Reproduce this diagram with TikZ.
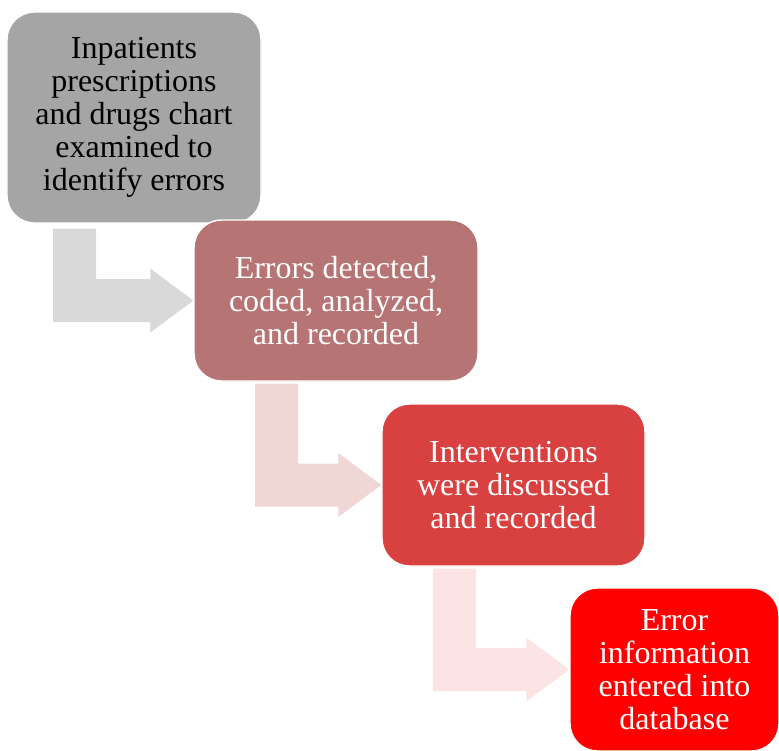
\documentclass[tikz,border=0pt]{standalone}
\usepackage{fontspec}
\setmainfont{Liberation Serif}
\usepackage{tikz}
\usetikzlibrary{calc}

\definecolor{stepgray}{HTML}{A5A5A5}
\definecolor{steprose}{HTML}{B77474}
\definecolor{stepred}{HTML}{D94040}
\definecolor{stepbright}{HTML}{FF0000}
\definecolor{arrowgray}{HTML}{D9D9D9}
\definecolor{arrowrose}{HTML}{F1D6D6}
\definecolor{arrowpink}{HTML}{FDE4E4}

% bent arrow: colour, from node, to node, left x of the stem, gap
\newcommand{\bentarrow}[5]{%
  \fill[#1] let \p1=(#2.south), \p2=(#3.west) in
    (#4,\y1-#5) -- (#4+0.86cm,\y1-#5) -- (#4+0.86cm,\y2+0.43cm)
    -- (\x2-0.86cm,\y2+0.43cm) -- (\x2-0.86cm,\y2+0.64cm) -- (\x2,\y2)
    -- (\x2-0.86cm,\y2-0.64cm) -- (\x2-0.86cm,\y2-0.43cm)
    -- (#4,\y2-0.43cm) -- cycle;}

\begin{document}
\begin{tikzpicture}[
  stepbox/.style={rounded corners=0.55cm, draw=white, line width=0.8pt,
    align=center, inner sep=2pt,
    font=\fontsize{18.2}{18.8}\selectfont}
]
\useasboundingbox (0,0) rectangle (15.58,-15);

\node[stepbox, fill=stepgray, minimum width=5.08cm, minimum height=4.22cm]
  (examine) at (2.68,-2.35)
  {Inpatients\\prescriptions\\and drugs chart\\examined to\\identify errors};
\node[stepbox, fill=steprose, text=white, minimum width=5.68cm, minimum height=3.22cm]
  (detect) at (6.72,-6.01)
  {Errors detected,\\coded, analyzed,\\and recorded};
\node[stepbox, fill=stepred, text=white, minimum width=5.26cm, minimum height=3.24cm]
  (discuss) at (10.27,-9.70)
  {Interventions\\were discussed\\and recorded};
\node[stepbox, fill=stepbright, text=white, minimum width=4.18cm, minimum height=3.26cm]
  (enter) at (13.49,-13.39)
  {Error\\information\\entered into\\database};

\bentarrow{arrowgray}{examine}{detect}{1.06cm}{0.1cm}
\bentarrow{arrowrose}{detect}{discuss}{5.10cm}{0.04cm}
\bentarrow{arrowpink}{discuss}{enter}{8.66cm}{0.04cm}
\end{tikzpicture}
\end{document}
